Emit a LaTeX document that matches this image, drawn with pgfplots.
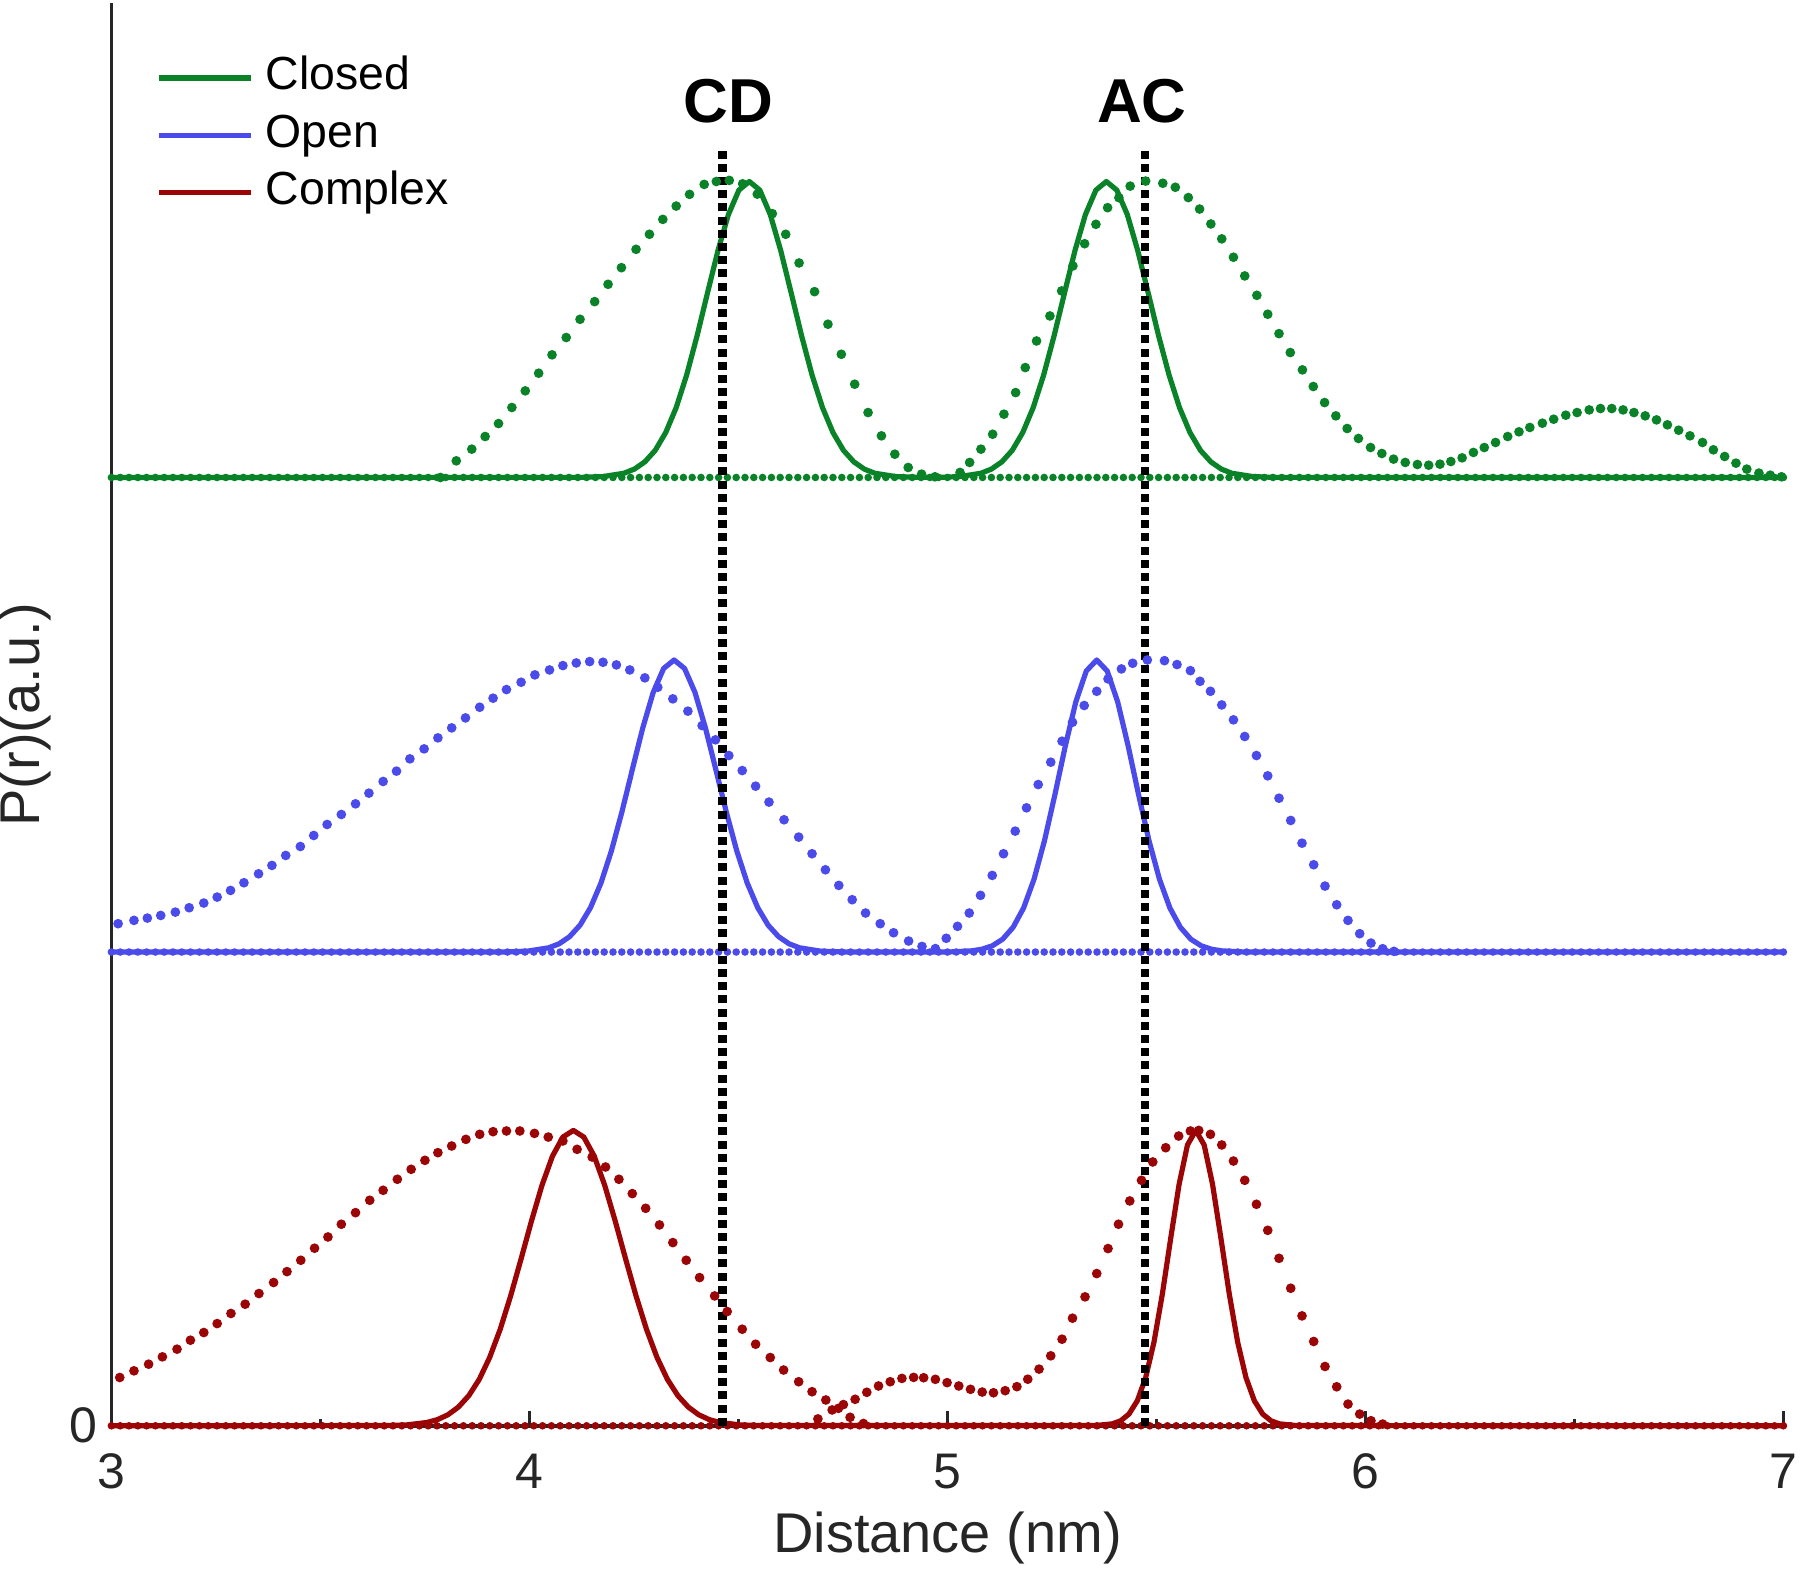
\documentclass[border=0pt]{standalone}
\usepackage{fontspec}
\setmainfont{Liberation Sans}
\usepackage{pgfplots}
\pgfplotsset{compat=1.18}
\definecolor{cgreen}{RGB}{10,130,40}
\definecolor{cblue}{RGB}{75,75,235}
\definecolor{cred}{RGB}{155,5,5}
\definecolor{axgray}{RGB}{38,38,38}
\begin{document}
\begin{tikzpicture}
\useasboundingbox (-27.85pt,-36.3pt) rectangle (422.15pt,356.45pt);
\begin{axis}[
  at={(0pt,0pt)}, anchor=south west,
  scale only axis, width=418.05pt, height=355.6pt,
  xmin=3, xmax=7, ymin=0, ymax=12.4,
  axis x line*=bottom, axis y line*=left,
  xtick={3,4,5,6,7}, minor xtick={3.5,4.5,5.5,6.5}, ytick={0},
  tick align=inside, major tick length=3.75pt, minor tick length=1.75pt,
  tick style={line width=0.6pt, color=axgray},
  axis line style={line width=0.9pt, color=axgray},
  /pgf/number format/assume math mode=true,
  ticklabel style={font=\fontsize{12.5}{14}\selectfont, text=axgray},
  xticklabel style={anchor=base, yshift=-15.6pt},
  xlabel={Distance (nm)}, ylabel={P(r)(a.u.)},
  label style={font=\fontsize{14}{16}\selectfont, text=axgray},
  xlabel style={at={(axis description cs:0.5,0)}, anchor=base, yshift=-31.8pt},
  ylabel style={at={(axis description cs:-0.0517,0.5)}, anchor=center},
  clip=false,
  legend cell align=left,
  legend style={draw=none, fill=none, at={(axis description cs:0.0266,0.967)}, anchor=north west,
    font=\fontsize{11.6}{13}\selectfont, inner sep=0pt, column sep=2pt, row sep=0.95pt,
    nodes={inner sep=1pt, text height=8.7pt, text depth=2.7pt}},
  legend image code/.code={\draw[#1] (0pt,0pt) -- (23pt,0pt);},
]
% dotted baselines
\addplot[cgreen, line width=1.9pt, dash pattern=on 0pt off 2.2pt, line cap=round, forget plot] coordinates {(3,8.267) (7,8.267)};
\addplot[cblue, line width=1.9pt, dash pattern=on 0pt off 2.2pt, line cap=round, forget plot] coordinates {(3,4.13) (7,4.13)};
\addplot[cred, line width=1.9pt, dash pattern=on 0pt off 2.2pt, line cap=round, forget plot] coordinates {(3,0) (7,0)};

% Closed dotted
\addplot[only marks, mark=*, mark size=1pt, cgreen, forget plot] table[x=x, y expr=\thisrow{h}+8.267] {
x h
3.787 0
3.825 0.145
3.862 0.247
3.894 0.357
3.926 0.470
3.958 0.610
3.990 0.755
4.022 0.909
4.054 1.069
4.088 1.220
4.121 1.379
4.156 1.533
4.188 1.684
4.220 1.829
4.255 1.989
4.287 2.120
4.319 2.250
4.351 2.366
4.383 2.468
4.418 2.555
4.447 2.580
4.478 2.590
4.510 2.560
4.545 2.470
4.581 2.300
4.613 2.120
4.645 1.870
4.682 1.620
4.714 1.336
4.746 1.074
4.778 0.813
4.810 0.566
4.842 0.363
4.874 0.203
4.906 0.087
4.938 0.029
4.970 0.006
5.030 0.044
5.053 0.131
5.080 0.247
5.108 0.377
5.135 0.552
5.163 0.740
5.186 0.958
5.213 1.190
5.245 1.408
5.273 1.626
5.300 1.844
5.328 2.038
5.355 2.207
5.383 2.352
5.410 2.439
5.437 2.540
5.474 2.584
5.515 2.565
5.545 2.530
5.576 2.440
5.603 2.340
5.630 2.210
5.656 2.080
5.684 1.920
5.711 1.757
5.740 1.588
5.766 1.423
5.793 1.254
5.820 1.089
5.849 0.938
5.875 0.793
5.902 0.653
5.929 0.537
5.956 0.427
5.983 0.340
6.012 0.261
6.039 0.209
6.067 0.160
6.095 0.131
6.124 0.113
6.151 0.107
6.178 0.116
6.204 0.139
6.231 0.171
6.258 0.218
6.284 0.261
6.311 0.305
6.340 0.357
6.367 0.398
6.393 0.436
6.423 0.473
6.450 0.508
6.479 0.543
6.506 0.566
6.535 0.589
6.562 0.601
6.589 0.601
6.616 0.589
6.642 0.566
6.669 0.537
6.696 0.502
6.722 0.459
6.749 0.412
6.776 0.363
6.806 0.305
6.832 0.241
6.859 0.183
6.886 0.125
6.912 0.073
6.941 0.038
6.968 0.020
6.995 0.006
};

% Open dotted
\addplot[only marks, mark=*, mark size=1pt, cblue, forget plot] table[x=x, y expr=\thisrow{h}+4.13] {
x h
3.016 0.247
3.054 0.276
3.086 0.296
3.118 0.319
3.153 0.348
3.186 0.386
3.221 0.427
3.253 0.479
3.285 0.537
3.317 0.604
3.352 0.682
3.384 0.755
3.417 0.842
3.452 0.920
3.484 1.016
3.516 1.112
3.550 1.199
3.584 1.292
3.616 1.385
3.650 1.487
3.682 1.577
3.714 1.684
3.748 1.771
3.781 1.867
3.814 1.954
3.847 2.041
3.881 2.134
3.913 2.213
3.945 2.288
3.980 2.352
4.013 2.416
4.048 2.459
4.080 2.497
4.112 2.520
4.144 2.532
4.176 2.526
4.208 2.503
4.240 2.459
4.276 2.390
4.307 2.308
4.343 2.207
4.379 2.100
4.413 1.974
4.445 1.850
4.477 1.713
4.509 1.582
4.541 1.446
4.573 1.307
4.609 1.153
4.644 1.002
4.676 0.857
4.708 0.717
4.740 0.581
4.772 0.456
4.804 0.340
4.839 0.247
4.871 0.168
4.907 0.096
4.939 0.049
4.971 0.030
4.997 0.120
5.024 0.224
5.052 0.340
5.079 0.494
5.107 0.668
5.134 0.857
5.162 1.054
5.189 1.257
5.217 1.460
5.247 1.655
5.274 1.838
5.299 2.003
5.327 2.149
5.357 2.273
5.384 2.381
5.416 2.468
5.443 2.517
5.478 2.546
5.519 2.540
5.549 2.506
5.581 2.453
5.604 2.360
5.629 2.273
5.656 2.154
5.684 2.024
5.711 1.879
5.739 1.713
5.766 1.536
5.793 1.341
5.821 1.147
5.848 0.949
5.876 0.761
5.903 0.575
5.931 0.412
5.958 0.276
5.986 0.160
6.013 0.078
6.041 0.029
6.068 0.006
};

% Complex dotted (two branches)
\addplot[only marks, mark=*, mark size=1pt, cred, forget plot] table[x=x, y=h] {
x h
3.020 0.421
3.054 0.479
3.089 0.537
3.122 0.601
3.157 0.668
3.189 0.746
3.221 0.813
3.253 0.891
3.286 0.979
3.320 1.060
3.353 1.153
3.388 1.249
3.420 1.344
3.453 1.443
3.486 1.548
3.518 1.646
3.550 1.757
3.584 1.858
3.618 1.966
3.650 2.053
3.684 2.149
3.717 2.236
3.750 2.314
3.781 2.381
3.814 2.439
3.848 2.497
3.881 2.541
3.913 2.564
3.945 2.570
3.977 2.570
4.012 2.549
4.045 2.517
4.080 2.483
4.114 2.410
4.150 2.343
4.182 2.256
4.214 2.149
4.246 2.024
4.278 1.896
4.311 1.751
4.343 1.597
4.375 1.443
4.407 1.292
4.443 1.132
4.473 0.996
4.509 0.842
4.541 0.711
4.576 0.595
4.608 0.486
4.644 0.384
4.676 0.297
4.709 0.225
4.739 0.152
4.767 0.074
4.799 0.020
};
\addplot[only marks, mark=*, mark size=1pt, cred, forget plot] table[x=x, y=h] {
x h
4.690 0.060
4.724 0.138
4.751 0.185
4.779 0.231
4.807 0.292
4.835 0.347
4.863 0.384
4.891 0.413
4.919 0.422
4.943 0.419
4.971 0.405
4.999 0.376
5.027 0.347
5.055 0.318
5.083 0.294
5.110 0.288
5.138 0.306
5.166 0.341
5.192 0.406
5.219 0.494
5.247 0.610
5.274 0.755
5.299 0.938
5.329 1.124
5.357 1.327
5.384 1.545
5.409 1.757
5.436 1.960
5.464 2.140
5.491 2.300
5.522 2.424
5.553 2.526
5.581 2.570
5.601 2.575
5.629 2.541
5.656 2.448
5.684 2.308
5.711 2.140
5.739 1.931
5.766 1.704
5.793 1.460
5.821 1.199
5.848 0.958
5.876 0.735
5.903 0.517
5.931 0.340
5.958 0.189
5.986 0.102
6.013 0.044
6.041 0.015
};

% Closed solid
\addplot[cgreen, line width=1.3pt, line join=round] table[x=x, y expr=\thisrow{h}+8.267] {
x h
3.000 0
4.126 0.001
4.176 0.008
4.226 0.037
4.251 0.073
4.276 0.136
4.301 0.237
4.326 0.392
4.351 0.609
4.376 0.893
4.401 1.235
4.426 1.610
4.451 1.979
4.476 2.293
4.501 2.505
4.526 2.580
4.551 2.505
4.576 2.293
4.601 1.979
4.626 1.610
4.651 1.235
4.676 0.893
4.701 0.609
4.726 0.392
4.751 0.237
4.776 0.136
4.801 0.073
4.826 0.037
4.876 0.008
4.926 0.001
4.980 0.001
5.030 0.008
5.080 0.037
5.105 0.073
5.130 0.136
5.155 0.237
5.180 0.392
5.205 0.609
5.230 0.893
5.255 1.235
5.280 1.610
5.305 1.979
5.330 2.293
5.355 2.505
5.380 2.580
5.405 2.505
5.430 2.293
5.455 1.979
5.480 1.610
5.505 1.235
5.530 0.893
5.555 0.609
5.580 0.392
5.605 0.237
5.630 0.136
5.655 0.073
5.680 0.037
5.730 0.008
5.780 0.001
7.000 0
};
\addlegendentry{Closed}

% Open solid
\addplot[cblue, line width=1.3pt, line join=round] table[x=x, y expr=\thisrow{h}+4.13] {
x h
3.000 0
3.946 0.001
3.996 0.008
4.046 0.037
4.071 0.072
4.096 0.134
4.121 0.234
4.146 0.387
4.171 0.601
4.196 0.881
4.221 1.219
4.246 1.589
4.271 1.953
4.296 2.263
4.321 2.472
4.346 2.546
4.371 2.472
4.396 2.263
4.421 1.953
4.446 1.589
4.471 1.219
4.496 0.881
4.521 0.601
4.546 0.387
4.571 0.234
4.596 0.134
4.621 0.072
4.646 0.037
4.696 0.008
4.746 0.001
5.007 0.001
5.057 0.010
5.082 0.024
5.107 0.054
5.132 0.112
5.157 0.216
5.182 0.384
5.207 0.635
5.232 0.971
5.257 1.373
5.282 1.799
5.307 2.182
5.332 2.450
5.357 2.546
5.382 2.450
5.407 2.182
5.432 1.799
5.457 1.373
5.482 0.971
5.507 0.635
5.532 0.384
5.557 0.216
5.582 0.112
5.607 0.054
5.632 0.024
5.657 0.010
5.707 0.001
7.000 0
};
\addlegendentry{Open}

% Complex solid
\addplot[cred, line width=1.3pt, line join=round] table[x=x, y=h] {
x h
3.000 0
3.655 0.002
3.705 0.007
3.755 0.029
3.780 0.054
3.805 0.096
3.830 0.163
3.855 0.263
3.880 0.405
3.905 0.597
3.930 0.841
3.955 1.132
3.980 1.455
4.005 1.787
4.030 2.097
4.055 2.350
4.080 2.517
4.105 2.575
4.130 2.517
4.155 2.350
4.180 2.097
4.205 1.787
4.230 1.455
4.255 1.132
4.280 0.841
4.305 0.597
4.330 0.405
4.355 0.263
4.380 0.163
4.405 0.096
4.430 0.054
4.455 0.029
4.505 0.007
4.555 0.002
5.354 0.002
5.394 0.017
5.414 0.043
5.434 0.102
5.454 0.218
5.474 0.420
5.494 0.731
5.514 1.150
5.534 1.636
5.554 2.105
5.574 2.448
5.594 2.575
5.614 2.448
5.634 2.105
5.654 1.636
5.674 1.150
5.694 0.731
5.714 0.420
5.734 0.218
5.754 0.102
5.774 0.043
5.794 0.017
5.834 0.002
7.000 0
};
\addlegendentry{Complex}

% reference lines
\addplot[black, line width=2.1pt, dash pattern=on 2pt off 1.3pt, forget plot] coordinates {(4.462,0) (4.462,11.13)};
\addplot[black, line width=2.1pt, dash pattern=on 2pt off 1.3pt, forget plot] coordinates {(5.472,0) (5.472,11.13)};
\node[anchor=base, font=\fontsize{15.5}{17}\selectfont\bfseries, inner sep=0pt] at (axis cs:4.4755,11.36) {CD};
\node[anchor=base, font=\fontsize{15.5}{17}\selectfont\bfseries, inner sep=0pt] at (axis cs:5.465,11.36) {AC};
\end{axis}
\end{tikzpicture}
\end{document}
